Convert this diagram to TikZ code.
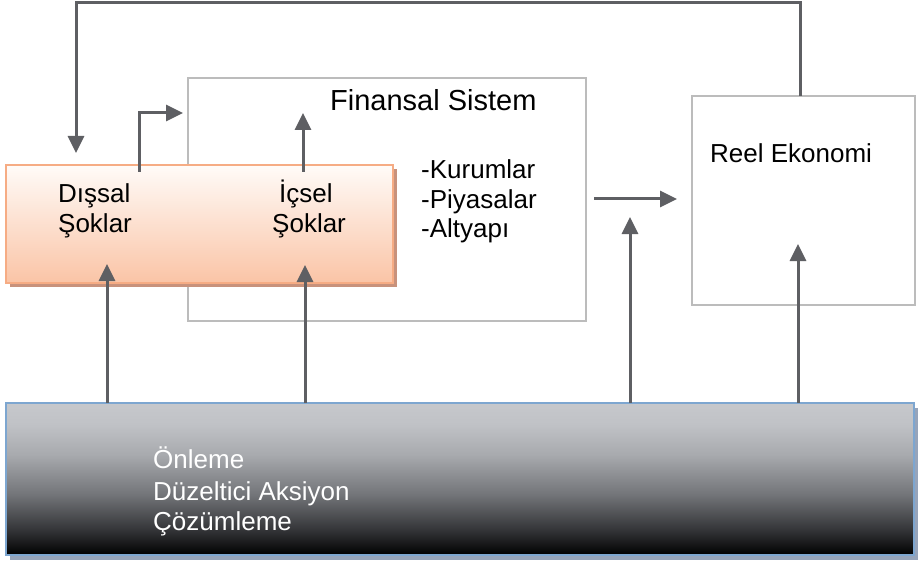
\documentclass[tikz,border=0pt]{standalone}
\usepackage{fontspec}
\setmainfont{Liberation Sans}
\usetikzlibrary{arrows.meta,shadows}

\definecolor{arrowgray}{RGB}{94,95,99}
\definecolor{peachedge}{RGB}{246,172,132}
\definecolor{peachlow}{RGB}{250,196,166}
\definecolor{peachtop}{RGB}{255,251,248}
\definecolor{peachshadow}{RGB}{200,146,124}
\definecolor{framegray}{RGB}{188,188,188}
\definecolor{steeledge}{RGB}{125,166,208}
\definecolor{steelshadow}{RGB}{150,164,186}

% steel gradient for the policy panel (0bp = bottom, 100bp = top)
\pgfdeclareverticalshading{steelfade}{100bp}{%
  color(0bp)=(black);
  color(25bp)=(black);
  color(33bp)=(rgb,255:red,50;green,51;blue,54);
  color(45bp)=(rgb,255:red,115;green,117;blue,121);
  color(58bp)=(rgb,255:red,168;green,170;blue,174);
  color(68bp)=(rgb,255:red,192;green,194;blue,198);
  color(75bp)=(rgb,255:red,198;green,200;blue,204);
  color(100bp)=(rgb,255:red,198;green,200;blue,204)}

\tikzset{
  panel/.style={rectangle, inner sep=0pt, outer sep=0pt, anchor=north west},
  plainbox/.style={panel, draw=framegray, line width=1.8pt, fill=white},
  shockbox/.style={panel, draw=peachedge, line width=1.6pt,
    top color=peachtop, bottom color=peachlow,
    drop shadow={shadow xshift=4pt, shadow yshift=-4pt, fill=peachshadow, opacity=1}},
  policybox/.style={panel, draw=steeledge, line width=1.8pt, shading=steelfade,
    drop shadow={shadow xshift=4pt, shadow yshift=-5pt, fill=steelshadow, opacity=1}},
  label/.style={anchor=base west, inner sep=0pt, font=\fontsize{26}{30}\selectfont},
  biglabel/.style={label, font=\fontsize{29}{34}\selectfont},
  arr/.style={draw=arrowgray, line width=3pt,
    -{Triangle[length=17pt, width=16pt]}, color=arrowgray},
}

\begin{document}
\begin{tikzpicture}[x=1pt, y=-1pt]
  \useasboundingbox (0,0) rectangle (918,564);

  % boxes
  \node[plainbox, minimum width=398pt, minimum height=243pt] (fin) at (188,78) {};
  \node[plainbox, minimum width=223pt, minimum height=209pt] (reel) at (692,96) {};
  \node[shockbox, minimum width=387pt, minimum height=118pt] (shock) at (6,165) {};
  \node[policybox, minimum width=908pt, minimum height=152pt] (ctrl) at (6,403) {};

  % texts
  \node[biglabel] (finT) at (330,111) {Finansal Sistem};
  \node[label] (kur) at (421,179) {-Kurumlar};
  \node[label] (piy) at (421,208) {-Piyasalar};
  \node[label] (alt) at (421,237) {-Altyapı};
  \node[label] (reelT) at (710,163) {Reel Ekonomi};
  \node[label] (dis1) at (58,203) {Dışsal};
  \node[label] (dis2) at (58,233) {Şoklar};
  \node[label] (ic1) at (279,203) {İçsel};
  \node[label] (ic2) at (272,233) {Şoklar};
  \node[label, text=white] (onl) at (153,468) {Önleme};
  \node[label, text=white] (duz) at (153,500) {Düzeltici Aksiyon};
  \node[label, text=white] (coz) at (153,530) {Çözümleme};

  % connector end points
  \coordinate (tipD) at (107,264);
  \coordinate (tipI) at (305,265);
  \coordinate (tipM) at (630,217);
  \coordinate (tipR) at (798,244);
  \coordinate (dOut) at (139,172);
  \coordinate (dTip) at (183,113);
  \coordinate (iOut) at (303,172);
  \coordinate (iTip) at (303,113);
  \coordinate (hStart) at (594,199);
  \coordinate (fbTop) at (800,3);
  \coordinate (fbTip) at (76,153);

  % connectors
  \draw[arr] (ctrl.north -| tipD) -- (tipD);
  \draw[arr] (ctrl.north -| tipI) -- (tipI);
  \draw[arr] (ctrl.north -| tipM) -- (tipM);
  \draw[arr] (ctrl.north -| tipR) -- (tipR);
  \draw[arr] (dOut) |- (dTip);
  \draw[arr] (iOut) -- (iTip);
  \draw[arr, shorten >=15pt] (hStart) -- (reel.west |- hStart);
  \draw[arr] (reel.north -| fbTop) -- (fbTop) -| (fbTip);
\end{tikzpicture}
\end{document}
